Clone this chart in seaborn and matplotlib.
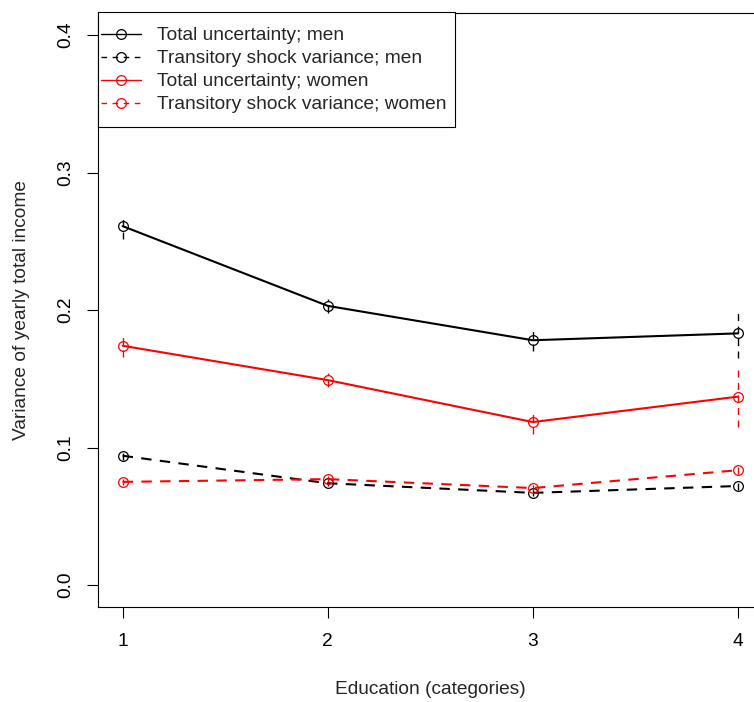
import numpy as np
import pandas as pd
import seaborn as sns
import matplotlib.pyplot as plt
from matplotlib.patches import Rectangle

# values
education = [1, 2, 3, 4]
total_men = [0.261, 0.203, 0.178, 0.183]
trans_men = [0.094, 0.074, 0.067, 0.072]
total_women = [0.174, 0.149, 0.1185, 0.137]
trans_women = [0.075, 0.077, 0.0705, 0.0835]

# half-width of the error bars
err_total_men = [0.009, 0.005, 0.008, 0.018]
err_trans_men = [0.003, 0.002, 0.002, 0.003]
err_total_women = [0.0085, 0.005, 0.0085, 0.022]
err_trans_women = [0.002, 0.002, 0.002, 0.003]

labels = ["Total uncertainty; men", "Transitory shock variance; men",
          "Total uncertainty; women", "Transitory shock variance; women"]

sns.set_style("white")
plt.rcParams['font.family'] = ['Liberation Sans', 'DejaVu Sans']
FS = 13.8

fig = plt.figure(figsize=(7.54, 7.02), dpi=100)
ax = fig.add_axes([98 / 754, 95 / 702, 664.6 / 754, 594 / 702])

series = [
    (total_men, err_total_men, "black", "-"),
    (trans_men, err_trans_men, "black", "--"),
    (total_women, err_total_women, "red", "-"),
    (trans_women, err_trans_women, "red", "--"),
]

handles = []
for (vals, errs, col, ls), lab in zip(series, labels):
    df = pd.DataFrame({"edu": education, "val": vals})
    sns.lineplot(data=df, x="edu", y="val", ax=ax, color=col, linewidth=1.5,
                 linestyle=ls, marker="o", markersize=7, markerfacecolor="none",
                 markeredgecolor=col, markeredgewidth=0.9, label=lab)
    if ls == "--":
        ax.lines[-1].set_dashes((5, 4))
    handles.append(ax.lines[-1])
    lo = np.array(vals) - np.array(errs)
    hi = np.array(vals) + np.array(errs)
    ax.vlines(education, lo, hi, colors=col, linestyles=(0, (5, 4)), linewidth=1.0)

ax.set_xlim(0.88, 4.12)
ax.set_ylim(-0.016, 0.416)
ax.set_xticks(education)
ax.set_yticks([0.0, 0.1, 0.2, 0.3, 0.4])
ax.set_yticklabels(["0.0", "0.1", "0.2", "0.3", "0.4"], rotation=90, va="center")
ax.tick_params(axis="both", direction="out", length=8, width=0.8, labelsize=FS,
               left=True, bottom=True, colors="black")
ax.tick_params(axis="x", pad=11)
ax.tick_params(axis="y", pad=9)
for sp in ax.spines.values():
    sp.set_color("black")
    sp.set_linewidth(0.8)
ax.set_xlabel("Education (categories)", fontsize=FS, labelpad=22)
ax.set_ylabel("Variance of yearly total income", fontsize=FS, labelpad=20)

# R-style legend box in the top-left corner
leg = ax.legend(handles=handles, labels=labels, loc="upper left", fontsize=FS,
                frameon=False, borderaxespad=0, borderpad=0,
                bbox_to_anchor=(101 / 754, 1 - 27 / 702), bbox_transform=fig.transFigure,
                handlelength=2.1, labelspacing=0.29, handletextpad=0.8)
for h in leg.legend_handles:
    h.set_linewidth(1.0)
    if h.get_linestyle() != "-":
        h.set_linestyle((0, (4, 4)))
ax.add_patch(Rectangle((98 / 754, 1 - 127 / 702), 357 / 754, 115 / 702,
                       transform=fig.transFigure, fill=True, facecolor="white",
                       edgecolor="black", linewidth=0.8, zorder=4, clip_on=False))

fig.savefig("out.png", dpi=100)
